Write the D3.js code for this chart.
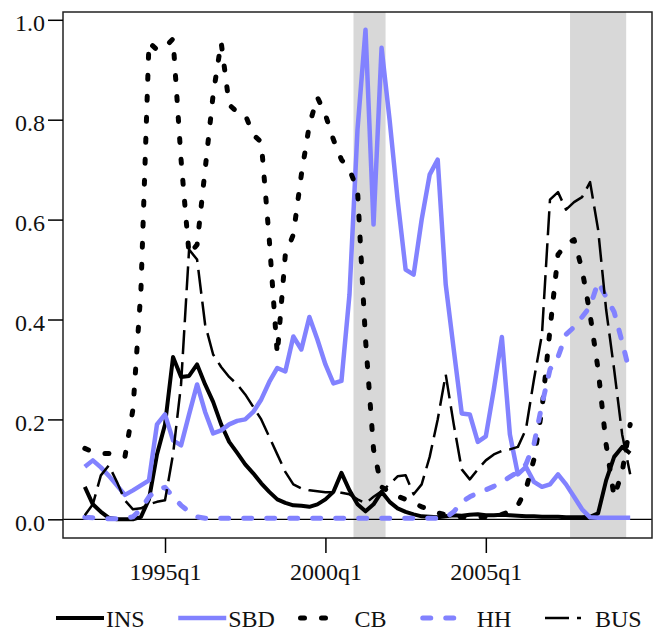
<!DOCTYPE html>
<html>
<head>
<meta charset="utf-8">
<script src="https://cdn.jsdelivr.net/npm/d3@7"></script>
<style>
  body { margin: 0; background: #fff; }
  svg { display: block; }
</style>
</head>
<body>
<div id="chart"></div>
<script>
// quarterly observations, 1992q3 - 2009q3
const quarters = [
  "1992q3", "1992q4",
  "1993q1", "1993q2", "1993q3", "1993q4",
  "1994q1", "1994q2", "1994q3", "1994q4",
  "1995q1", "1995q2", "1995q3", "1995q4",
  "1996q1", "1996q2", "1996q3", "1996q4",
  "1997q1", "1997q2", "1997q3", "1997q4",
  "1998q1", "1998q2", "1998q3", "1998q4",
  "1999q1", "1999q2", "1999q3", "1999q4",
  "2000q1", "2000q2", "2000q3", "2000q4",
  "2001q1", "2001q2", "2001q3", "2001q4",
  "2002q1", "2002q2", "2002q3", "2002q4",
  "2003q1", "2003q2", "2003q3", "2003q4",
  "2004q1", "2004q2", "2004q3", "2004q4",
  "2005q1", "2005q2", "2005q3", "2005q4",
  "2006q1", "2006q2", "2006q3", "2006q4",
  "2007q1", "2007q2", "2007q3", "2007q4",
  "2008q1", "2008q2", "2008q3", "2008q4",
  "2009q1", "2009q2", "2009q3"
];

const INS = [
  0.065, 0.03,
  0.015, 0.003, 0.0, 0.0,
  0.0, 0.005, 0.04, 0.13,
  0.19, 0.325, 0.285, 0.287,
  0.31, 0.27, 0.235, 0.19,
  0.155, 0.133, 0.11, 0.092,
  0.072, 0.055, 0.04, 0.033,
  0.028, 0.027, 0.025, 0.03,
  0.04, 0.055, 0.093, 0.058,
  0.03, 0.016, 0.03, 0.055,
  0.035, 0.022, 0.015, 0.01,
  0.006, 0.005, 0.004, 0.006,
  0.008, 0.007, 0.009, 0.01,
  0.008, 0.008, 0.009, 0.008,
  0.007, 0.006, 0.006, 0.005,
  0.005, 0.005, 0.004, 0.004,
  0.004, 0.005, 0.012, 0.078,
  0.125, 0.145, 0.132
];

const SBD = [
  0.105, 0.118,
  0.104, 0.087, 0.068, 0.049,
  0.058, 0.068, 0.078, 0.19,
  0.21, 0.158, 0.148, 0.21,
  0.27, 0.215, 0.172, 0.178,
  0.19, 0.197, 0.2, 0.215,
  0.24, 0.275, 0.303, 0.296,
  0.366, 0.34, 0.405, 0.36,
  0.31, 0.272, 0.277, 0.45,
  0.78, 0.98, 0.59, 0.944,
  0.8, 0.64, 0.5, 0.49,
  0.6, 0.69, 0.72, 0.47,
  0.34, 0.212, 0.21, 0.155,
  0.166, 0.26, 0.365, 0.17,
  0.09, 0.105, 0.075, 0.065,
  0.07, 0.09, 0.07, 0.045,
  0.02, 0.004, 0.003, 0.003,
  0.003, 0.003, 0.003
];

const CB = [
  0.142, 0.135,
  0.132, 0.132, 0.13, 0.125,
  0.22, 0.46, 0.955, 0.94,
  0.945, 0.962, 0.72, 0.53,
  0.55, 0.7, 0.85, 0.955,
  0.83, 0.815, 0.81, 0.77,
  0.755, 0.56, 0.33, 0.53,
  0.57, 0.69, 0.79, 0.845,
  0.81, 0.76, 0.72, 0.7,
  0.66, 0.36, 0.14, 0.065,
  0.055, 0.046, 0.04, 0.033,
  0.025, 0.02, 0.013, 0.009,
  0.006, 0.005, 0.005, 0.005,
  0.005, 0.006, 0.01, 0.015,
  0.028, 0.06, 0.12, 0.22,
  0.38, 0.53, 0.55, 0.56,
  0.5, 0.41, 0.3, 0.15,
  0.045, 0.095, 0.19
];

const HH = [
  0.004, 0.003,
  0.002, 0.001, 0.001, 0.002,
  0.005, 0.02, 0.045, 0.06,
  0.064, 0.045, 0.028, 0.015,
  0.005, 0.002, 0.002, 0.002,
  0.002, 0.002, 0.002, 0.002,
  0.002, 0.002, 0.002, 0.002,
  0.002, 0.002, 0.002, 0.002,
  0.002, 0.002, 0.002, 0.002,
  0.002, 0.002, 0.002, 0.002,
  0.002, 0.002, 0.002, 0.002,
  0.002, 0.002, 0.002, 0.003,
  0.015, 0.035, 0.045, 0.053,
  0.059, 0.066, 0.075, 0.085,
  0.095, 0.11, 0.15, 0.23,
  0.3, 0.325, 0.37, 0.385,
  0.405, 0.426, 0.475, 0.445,
  0.415, 0.355, 0.29
];

const BUS = [
  0.008, 0.03,
  0.088, 0.108, 0.075, 0.038,
  0.02, 0.022, 0.03, 0.035,
  0.038, 0.13, 0.27, 0.54,
  0.52, 0.39, 0.33, 0.305,
  0.285, 0.27, 0.25, 0.225,
  0.2, 0.165, 0.13, 0.095,
  0.07, 0.062, 0.058, 0.056,
  0.054, 0.054, 0.053, 0.05,
  0.04, 0.032, 0.045, 0.056,
  0.07, 0.086, 0.088, 0.05,
  0.07, 0.125, 0.2, 0.29,
  0.19, 0.1, 0.08, 0.1,
  0.118, 0.13, 0.137, 0.14,
  0.145, 0.18, 0.28, 0.37,
  0.64, 0.655, 0.62, 0.635,
  0.645, 0.675, 0.58, 0.42,
  0.3, 0.17, 0.09
];

const seriesNames = ["INS", "SBD", "CB", "HH", "BUS"];
const xTicks = ["1995q1", "2000q1", "2005q1"];
const yTicks = [0, 0.2, 0.4, 0.6, 0.8, 1.0];
const recessions = [["2001q1", "2001q4"], ["2007q4", "2009q2"]];

const width = 654, height = 632;
const lavender = "#8282ff";
const textStyle = "font-family: 'Liberation Serif', Times, 'DejaVu Serif', serif; font-size: 24px;";

// line look per series
const styles = {
  INS: { color: "#000", w: 4, dash: null, cap: "butt" },
  SBD: { color: lavender, w: 4.5, dash: null, cap: "butt" },
  CB:  { color: "#000", w: 5, dash: "4,17", cap: "round" },
  HH:  { color: lavender, w: 5, dash: "8,15", cap: "round" },
  BUS: { color: "#000", w: 2.5, dash: "24,8", cap: "butt" }
};

const qnum = s => +s.slice(0, 4) + (+s.slice(5) - 1) / 4;

const x = d3.scaleLinear().domain([1991.82, 2010.18]).range([63, 652]);
const y = d3.scaleLinear().domain([-0.0374, 1.0156]).range([538, 12]);

const svg = d3.select("#chart").append("svg")
  .attr("width", width)
  .attr("height", height);

// shaded recessions, one quarter wide per observation
svg.append("g")
  .selectAll("rect")
  .data(recessions)
  .join("rect")
  .attr("x", d => x(qnum(d[0]) - 0.125))
  .attr("width", d => x(qnum(d[1]) + 0.125) - x(qnum(d[0]) - 0.125))
  .attr("y", y.range()[1])
  .attr("height", y.range()[0] - y.range()[1])
  .attr("fill", "#d8d8d8");

// zero line
svg.append("line")
  .attr("x1", x.range()[0]).attr("x2", x.range()[1])
  .attr("y1", y(0)).attr("y2", y(0))
  .attr("stroke", "#000").attr("stroke-width", 1.2);

const allSeries = { INS, SBD, CB, HH, BUS };

const line = d3.line()
  .x((d, i) => x(qnum(quarters[i])))
  .y(d => y(d));

svg.append("g")
  .attr("fill", "none")
  .selectAll("path")
  .data(seriesNames)
  .join("path")
  .attr("d", k => line(allSeries[k]))
  .attr("stroke", k => styles[k].color)
  .attr("stroke-width", k => styles[k].w)
  .attr("stroke-dasharray", k => styles[k].dash)
  .attr("stroke-linecap", k => styles[k].cap)
  .attr("stroke-linejoin", "round");

// frame
svg.append("rect")
  .attr("x", x.range()[0]).attr("y", y.range()[1])
  .attr("width", x.range()[1] - x.range()[0])
  .attr("height", y.range()[0] - y.range()[1])
  .attr("fill", "none")
  .attr("stroke", "#222")
  .attr("stroke-width", 1.5);

// axes
const yAxis = d3.axisLeft(y)
  .tickValues(yTicks)
  .tickFormat(d3.format(".1f"))
  .tickSize(15)
  .tickPadding(3);

svg.append("g")
  .attr("transform", `translate(${x.range()[0]},0)`)
  .call(yAxis)
  .call(g => g.select(".domain").remove())
  .call(g => g.selectAll("line").attr("stroke", "#000").attr("stroke-width", 1.5))
  .call(g => g.selectAll("text")
    .attr("style", textStyle)
    .attr("fill", "#111")
    .attr("dy", "0.45em"));

const xAxis = d3.axisBottom(x)
  .tickValues(xTicks.map(qnum))
  .tickFormat((d, i) => xTicks[i])
  .tickSize(15)
  .tickPadding(4);

svg.append("g")
  .attr("transform", `translate(0,${y.range()[0]})`)
  .call(xAxis)
  .call(g => g.select(".domain").remove())
  .call(g => g.selectAll("line").attr("stroke", "#000").attr("stroke-width", 1.5))
  .call(g => g.selectAll("text")
    .attr("style", textStyle)
    .attr("fill", "#111")
    .attr("dy", "0.95em"));

// legend along the bottom
const legendX = d3.scalePoint().domain(seriesNames).range([56, 545]);
const legendY = 618;
const sampleLen = 48;

const item = svg.append("g")
  .selectAll("g")
  .data(seriesNames)
  .join("g")
  .attr("transform", k => `translate(${legendX(k)},${legendY})`);

item.append("line")
  .attr("x1", 0).attr("x2", k => styles[k].dash ? 36 : sampleLen)
  .attr("y1", 0).attr("y2", 0)
  .attr("stroke", k => styles[k].color)
  .attr("stroke-width", k => styles[k].w)
  .attr("stroke-dasharray", k => styles[k].dash)
  .attr("stroke-linecap", k => styles[k].cap);

item.append("text")
  .attr("x", k => k === "BUS" ? sampleLen + 2 : (styles[k].dash ? sampleLen + 6 : sampleLen + 2))
  .attr("y", 9)
  .attr("style", textStyle)
  .attr("fill", "#111")
  .text(k => k);
</script>
</body>
</html>
